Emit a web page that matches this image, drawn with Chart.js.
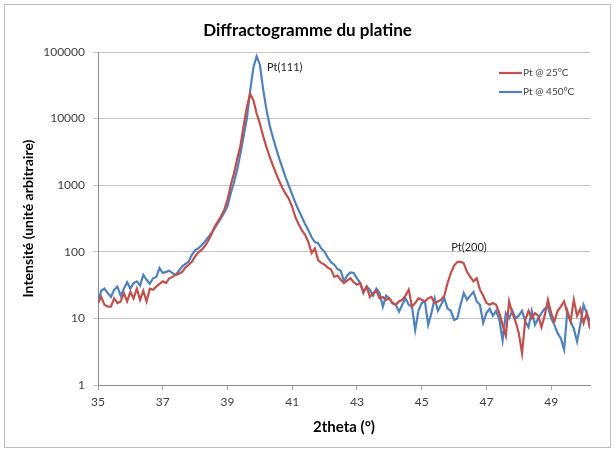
<!DOCTYPE html>
<html>
<head>
<meta charset="utf-8">
<script src="https://cdn.jsdelivr.net/npm/chart.js@4.4.0/dist/chart.umd.min.js"></script>
<style>
html, body { margin: 0; padding: 0; background: #fff; }
#wrap { position: relative; width: 615px; height: 450px; }
#cadre { position: absolute; left: 4px; top: 4px; width: 605px; height: 442px; border: 1px solid #bdbdbd; pointer-events: none; }
canvas { position: absolute; left: 0; top: 0; }
</style>
</head>
<body>
<div id="wrap">
  <canvas id="diffracto" width="615" height="450"></canvas>
  <div id="cadre"></div>
</div>
<script>
// grille des angles 2theta : de 35 a 50,2 par pas de 0,1
const angleDebut = 35;
const anglePas = 0.1;

// Pt @ 25°C
const intensite25 = [
  17, 21, 16, 15, 15, 20, 17, 18, 24, 18,          // 35.0 - 35.9
  25, 20, 28, 19, 26, 18, 28, 27, 30, 33,          // 36.0 - 36.9
  36, 34, 40, 42, 45, 47, 50, 58, 64, 71,          // 37.0 - 37.9
  85, 98, 107, 122, 145, 180, 235, 285, 340, 430,  // 38.0 - 38.9
  600, 1000, 1500, 2500, 3900, 7800, 15000, 23500, 19000, 12000, // 39.0 - 39.9
  8500, 5500, 3800, 2700, 2000, 1500, 1150, 900, 740, 620,       // 40.0 - 40.9
  470, 330, 260, 210, 180, 140, 96, 112, 75, 68,   // 41.0 - 41.9
  64, 58, 54, 42, 44, 38, 34, 37, 40, 35,          // 42.0 - 42.9
  32, 34, 25, 30, 21, 24, 26, 20, 21, 19,          // 43.0 - 43.9
  20, 17, 16, 18, 19, 22, 27, 15, 17, 20,          // 44.0 - 44.9
  19, 18, 20, 21, 17, 18, 19, 22, 34, 48,          // 45.0 - 45.9
  62, 70, 71, 67, 50, 42, 36, 40, 27, 22,          // 46.0 - 46.9
  17, 16, 17, 16, 12, 8, 5.5, 18, 12, 9,           // 47.0 - 47.9
  6, 3, 9.5, 13, 10, 12, 11, 7.4, 11, 19,          // 48.0 - 48.9
  12, 9, 13, 15, 18, 12, 9, 19, 11, 14,            // 49.0 - 49.9
  8.5, 12, 7                                        // 50.0 - 50.2
];

// Pt @ 450°C
const intensite450 = [
  18, 26, 28, 24, 21, 27, 30, 22, 28, 35,          // 35.0 - 35.9
  28, 34, 36, 31, 45, 38, 33, 40, 42, 57,          // 36.0 - 36.9
  48, 50, 52, 48, 45, 52, 60, 66, 71, 90,          // 37.0 - 37.9
  105, 113, 125, 142, 165, 190, 225, 270, 320, 390, // 38.0 - 38.9
  480, 750, 1100, 1700, 3000, 5500, 10000, 26000, 58000, 86000, // 39.0 - 39.9
  65000, 28000, 14000, 8000, 5300, 3600, 2500, 1800, 1300, 960, // 40.0 - 40.9
  720, 540, 420, 330, 260, 210, 165, 140, 135, 112, // 41.0 - 41.9
  100, 82, 70, 64, 55, 52, 36, 44, 49, 48,         // 42.0 - 42.9
  40, 34, 24, 30, 27, 22, 28, 24, 15, 22,          // 43.0 - 43.9
  20, 17, 16, 12.6, 16, 20, 16, 15, 6.7, 13,       // 44.0 - 44.9
  17, 18, 8, 12, 20, 13, 16, 20, 14, 13,           // 45.0 - 45.9
  9.5, 10, 16, 24, 19, 22, 25, 18, 16, 8.6,        // 46.0 - 46.9
  12, 14, 11, 13, 9.5, 4.7, 12, 10, 13, 10,        // 47.0 - 47.9
  11, 13, 9, 7.4, 13, 8, 10, 12, 14, 15,           // 48.0 - 48.9
  10, 8, 6, 5, 3.4, 13, 9, 7, 4.5, 8,              // 49.0 - 49.9
  16, 12, 9                                         // 50.0 - 50.2
];

const ticksX = [35, 37, 39, 41, 43, 45, 47, 49];
const ticksY = [1, 10, 100, 1000, 10000, 100000];

const titre = 'Diffractogramme du platine';
const nomSerie25 = 'Pt @ 25°C';
const nomSerie450 = 'Pt @ 450°C';
const couleur25 = '#C0504D';
const couleur450 = '#4F81BD';

// Annotations des pics : [texte, 2theta, intensite, alignement]
const annotations = [
  ['Pt(111)', 40.22, 59000, 'left'],
  ['Pt(200)', 46.46, 118, 'center']
];

function versPoints(valeurs) {
  return valeurs.map((v, i) => ({ x: +(angleDebut + i * anglePas).toFixed(2), y: v }));
}

// Titre, legende et etiquettes dessines a la main
const pluginEtiquettes = {
  id: 'etiquettes',
  afterDatasetsDraw(chart) {
    const ctx = chart.ctx;
    const sx = chart.scales.x, sy = chart.scales.y;
    ctx.save();

    // titre centre sur toute la zone du graphique
    ctx.fillStyle = '#000';
    ctx.font = 'bold 17px Lato';
    ctx.textAlign = 'center';
    ctx.textBaseline = 'middle';
    ctx.fillText(titre, chart.width / 2, 31);

    ctx.fillStyle = '#262626';
    ctx.font = '11px Lato';
    annotations.forEach(([txt, ax, ay, al]) => {
      ctx.textAlign = al;
      ctx.fillText(txt, sx.getPixelForValue(ax), sy.getPixelForValue(ay));
    });

    // legende
    const items = [[nomSerie25, couleur25, 73], [nomSerie450, couleur450, 92]];
    ctx.font = '10px Lato';
    ctx.textAlign = 'left';
    items.forEach(([txt, col, y]) => {
      ctx.strokeStyle = col;
      ctx.lineWidth = 2.2;
      ctx.beginPath();
      ctx.moveTo(499, y);
      ctx.lineTo(522, y);
      ctx.stroke();
      ctx.fillStyle = '#404040';
      ctx.fillText(txt, 523, y);
    });
    ctx.restore();
  }
};

const ctx = document.getElementById('diffracto').getContext('2d');
const chart = new Chart(ctx, {
  type: 'line',
  data: {
    datasets: [
      { label: nomSerie25, data: versPoints(intensite25), borderColor: couleur25, borderWidth: 2.2, pointRadius: 0, tension: 0, fill: false },
      { label: nomSerie450, data: versPoints(intensite450), borderColor: couleur450, borderWidth: 2.2, pointRadius: 0, tension: 0, fill: false }
    ]
  },
  options: {
    responsive: false,
    animation: false,
    layout: { padding: { left: 0, right: 25, top: 52, bottom: 0 } },
    plugins: {
      legend: { display: false },
      tooltip: { enabled: false },
      title: { display: false }
    },
    scales: {
      x: {
        type: 'linear',
        min: 35,
        max: 50.2,
        afterBuildTicks: s => { s.ticks = ticksX.map(v => ({ value: v })); },
        afterFit: s => { s.height = 65; },
        grid: { display: true, drawOnChartArea: false, drawTicks: true, tickLength: 5, color: '#a6a6a6' },
        border: { display: true, color: '#8c8c8c' },
        ticks: { color: '#404040', font: { family: 'Lato', size: 12 }, padding: 5, maxRotation: 0, autoSkip: false },
        title: {
          display: true,
          text: '2theta (°)',
          color: '#000',
          font: { family: 'Lato', size: 15, weight: 'bold' },
          padding: { top: 0, bottom: 14 }
        }
      },
      y: {
        type: 'logarithmic',
        min: 1,
        max: 100000,
        afterBuildTicks: s => { s.ticks = ticksY.map(v => ({ value: v, major: true })); },
        afterFit: s => { s.width = 98; },
        grid: { color: '#c4c4c4', tickLength: 5 },
        border: { display: true, color: '#8c8c8c' },
        ticks: { color: '#404040', font: { family: 'Lato', size: 12 }, padding: 8, callback: v => String(v) },
        title: {
          display: true,
          text: 'Intensité (unité arbitraire)',
          color: '#000',
          font: { family: 'Lato', size: 14, weight: 'bold' },
          padding: { top: 20, bottom: 0 }
        }
      }
    }
  },
  plugins: [pluginEtiquettes]
});
</script>
</body>
</html>
